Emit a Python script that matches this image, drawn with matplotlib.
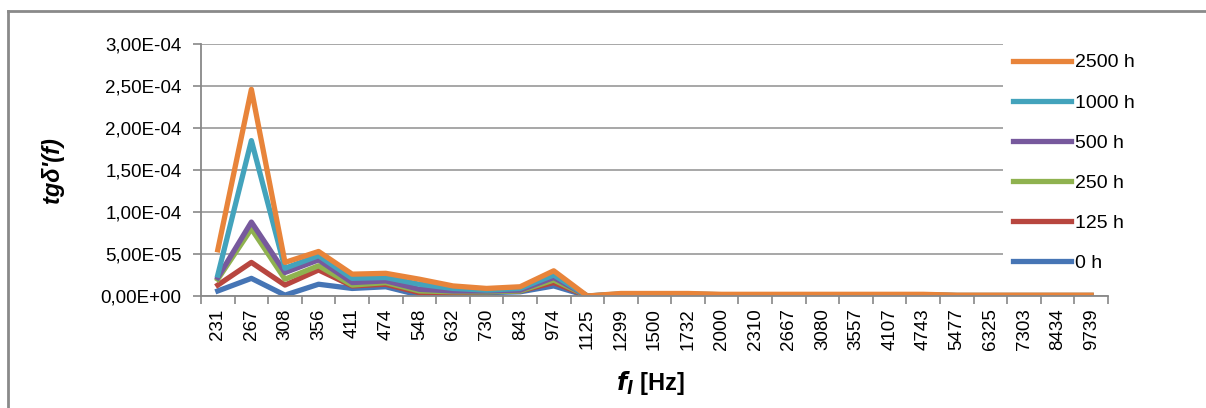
import numpy as np
import matplotlib.pyplot as plt
from matplotlib.lines import Line2D
from matplotlib.ticker import FuncFormatter, FixedLocator

# sageduse sildid (Hz)
sagedused = ["231", "267", "308", "356", "411", "474", "548", "632", "730", "843",
             "974", "1125", "1299", "1500", "1732", "2000", "2310", "2667", "3080",
             "3557", "4107", "4743", "5477", "6325", "7303", "8434", "9739"]

# väärtused loetud pildilt (ligikaudu)
h0 = [6e-6, 2.1e-5, 1e-6, 1.4e-5, 9e-6, 1.1e-5, 1e-6, 3e-6, 4e-6, 5e-6,
      1.2e-5, 0, 5e-7, 5e-7, 5e-7, 3e-7, 3e-7, 3e-7, 3e-7, 3e-7, 3e-7, 3e-7,
      2e-7, 2e-7, 2e-7, 2e-7, 2e-7]
h125 = [1.3e-5, 4.0e-5, 1.3e-5, 3.1e-5, 1.2e-5, 1.4e-5, 4e-6, 4e-6, 5e-6, 6e-6,
        1.6e-5, 0, 1e-6, 1e-6, 1e-6, 5e-7, 5e-7, 5e-7, 5e-7, 5e-7, 5e-7, 5e-7,
        3e-7, 3e-7, 3e-7, 3e-7, 3e-7]
h250 = [2.0e-5, 8.0e-5, 2.0e-5, 3.6e-5, 1.3e-5, 1.6e-5, 6e-6, 5e-6, 5e-6, 6e-6,
        1.9e-5, 0, 1.5e-6, 1.5e-6, 1.5e-6, 8e-7, 8e-7, 8e-7, 8e-7, 8e-7, 8e-7, 8e-7,
        4e-7, 4e-7, 4e-7, 4e-7, 4e-7]
h500 = [2.2e-5, 8.8e-5, 2.8e-5, 4.3e-5, 1.6e-5, 1.8e-5, 8e-6, 6e-6, 6e-6, 7e-6,
        2.2e-5, 0, 2e-6, 2e-6, 2e-6, 1e-6, 1e-6, 1e-6, 1e-6, 1e-6, 1e-6, 1e-6,
        5e-7, 5e-7, 5e-7, 5e-7, 5e-7]
h1000 = [2.5e-5, 1.85e-4, 3.3e-5, 4.8e-5, 2.1e-5, 2.2e-5, 1.4e-5, 9e-6, 7e-6, 9e-6,
         2.5e-5, 0, 2.5e-6, 2.5e-6, 2.5e-6, 1.5e-6, 1.5e-6, 1.5e-6, 1.5e-6, 1.5e-6,
         1.5e-6, 1.5e-6, 7e-7, 7e-7, 7e-7, 7e-7, 7e-7]
h2500 = [5.5e-5, 2.46e-4, 4.0e-5, 5.3e-5, 2.6e-5, 2.7e-5, 2.0e-5, 1.2e-5, 9e-6, 1.1e-5,
         3.0e-5, 0, 3e-6, 3e-6, 3e-6, 2e-6, 2e-6, 2e-6, 2e-6, 2e-6, 2e-6, 2e-6,
         1e-6, 1e-6, 1e-6, 1e-6, 1e-6]

seeriad = [("0 h", h0, "#4675B5"), ("125 h", h125, "#B8463F"),
           ("250 h", h250, "#8FB24F"), ("500 h", h500, "#77599D"),
           ("1000 h", h1000, "#43A3BC"), ("2500 h", h2500, "#E8843A")]

plt.rcParams['font.family'] = ['Liberation Sans', 'DejaVu Sans']

fig = plt.figure(figsize=(12.06, 4.08), dpi=100)
ax = fig.add_axes([201 / 1206, 1 - 296 / 408, (1108 - 201) / 1206, (296 - 44) / 408])

x = np.arange(len(sagedused))
for nimi, y, varv in seeriad:
    ax.plot(x, y, color=varv, linewidth=3.8, label=nimi)

ax.set_xlim(-0.5, len(sagedused) - 0.5)
ax.set_ylim(0, 3e-4)
ax.set_yticks(np.arange(0, 3.01e-4, 5e-5))
ax.yaxis.set_major_formatter(FuncFormatter(lambda v, p: ("%.2E" % v).replace(".", ",")))
ax.grid(axis="y", color="#A0A0A0", linewidth=1.3)
ax.set_axisbelow(True)

ax.set_xticks(x)
ax.set_xticklabels(sagedused, rotation=90)
ax.xaxis.set_minor_locator(FixedLocator(np.arange(-0.5, len(sagedused), 1)))
ax.tick_params(axis="x", which="major", length=0, pad=9, labelsize=13.5)
ax.tick_params(axis="x", which="minor", length=6, color="#888888", width=1.2)
ax.tick_params(axis="y", length=6, color="#888888", width=1.2, labelsize=13.5, pad=8)

for s in ["top", "right"]:
    ax.spines[s].set_visible(False)
for s in ["left", "bottom"]:
    ax.spines[s].set_color("#888888")
    ax.spines[s].set_linewidth(1.3)

ax.set_ylabel("tgδ'(f)", fontsize=17, fontweight="bold", fontstyle="italic")
ax.yaxis.set_label_coords(-(201 - 64) / 907, 0.5)
fig.text(650 / 1206, 1 - 383 / 408, r"$\mathbfit{f}_{\mathbfit{l}}$" + " [Hz]",
         ha="center", va="center", fontsize=17, fontweight="bold")

kasitsed, sildid = ax.get_legend_handles_labels()
leg = ax.legend(kasitsed[::-1], sildid[::-1], loc="upper left",
                bbox_to_anchor=((1003 - 201) / 907, (296 - 44) / 252),
                frameon=True, fancybox=False, fontsize=14, handlelength=3.0,
                labelspacing=1.16, handletextpad=0.2, borderaxespad=0.0,
                borderpad=0.5)
leg.get_frame().set_facecolor("white")
leg.get_frame().set_edgecolor("none")
leg.get_frame().set_alpha(1.0)

# välimine raam
fig.add_artist(Line2D([8 / 1206, 8 / 1206], [0, 1 - 11 / 408], transform=fig.transFigure,
                      color="#8A8A8A", linewidth=2))
fig.add_artist(Line2D([8 / 1206, 1], [1 - 11 / 408, 1 - 11 / 408], transform=fig.transFigure,
                      color="#8A8A8A", linewidth=2))

fig.savefig("out.png", dpi=100, facecolor="white")
